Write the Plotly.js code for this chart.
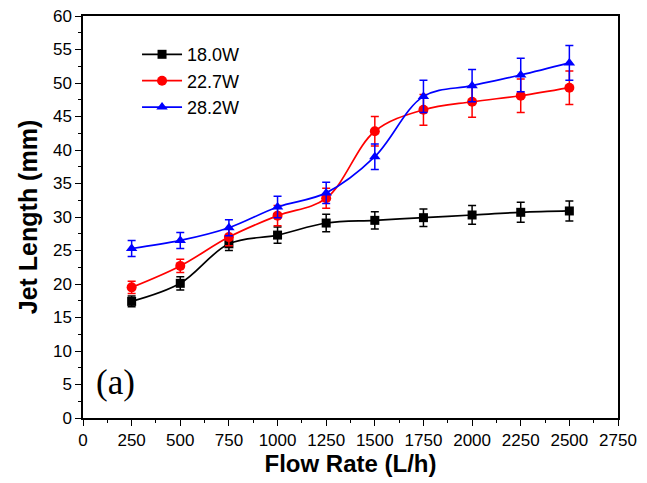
<!DOCTYPE html>
<html><head><meta charset="utf-8">
<script src="https://cdn.plot.ly/plotly-3.0.1.min.js"></script>
<style>body{margin:0;background:#fff}#plot{width:647px;height:483px}</style>
</head><body><div id="plot"></div>
<script>
const flowRate = [250, 500, 750, 1000, 1250, 1500, 1750, 2000, 2250, 2500];
const seriesNames = ["18.0W", "22.7W", "28.2W"];
const jet18 = [17.4, 20.1, 26.0, 27.3, 29.1, 29.5, 29.9, 30.3, 30.7, 30.9];
const err18 = [0.8, 1.0, 1.0, 1.2, 1.3, 1.3, 1.3, 1.4, 1.5, 1.5];
const jet22 = [19.5, 22.7, 27.0, 30.2, 32.8, 42.8, 46.0, 47.2, 48.1, 49.3];
const err22 = [0.9, 1.0, 1.3, 1.5, 1.5, 2.2, 2.3, 2.3, 2.5, 2.5];
const jet28 = [25.3, 26.5, 28.4, 31.5, 33.6, 39.0, 48.0, 49.6, 51.2, 53.0];
const err28 = [1.2, 1.2, 1.2, 1.6, 1.6, 1.9, 2.4, 2.4, 2.5, 2.6];
const xTicks = [0, 250, 500, 750, 1000, 1250, 1500, 1750, 2000, 2250, 2500, 2750];
const yTicks = [0, 5, 10, 15, 20, 25, 30, 35, 40, 45, 50, 55, 60];

function mk(name, y, e, color, symbol, size) {
  return {
    x: flowRate, y: y, name: name, type: 'scatter', mode: 'lines+markers',
    line: {color: color, width: 1.7, shape: 'spline', smoothing: 1},
    marker: {color: color, symbol: symbol, size: size},
    error_y: {type: 'data', array: e, visible: true, color: color, thickness: 1.5, width: 4}
  };
}
const data = [
  mk(seriesNames[0], jet18, err18, '#000000', 'square', 9),
  mk(seriesNames[1], jet22, err22, '#ff0000', 'circle', 10),
  mk(seriesNames[2], jet28, err28, '#0000ff', 'triangle-up', 10)
];
const fam = 'Liberation Sans, Arial, sans-serif';
const axFont = {family: fam, size: 17, color: '#000'};
const layout = {
  width: 647, height: 483,
  margin: {l: 83, r: 29, t: 16, b: 65},
  paper_bgcolor: '#fff', plot_bgcolor: '#fff',
  showlegend: true,
  legend: {x: 0.101, y: 0.95, xanchor: 'left', yanchor: 'top', bgcolor: 'rgba(0,0,0,0)',
           font: {family: fam, size: 18, color: '#000'},
           tracegroupgap: 0, itemwidth: 40},
  xaxis: {
    range: [0, 2750], tickvals: xTicks, ticktext: xTicks.map(String),
    ticks: 'outside', ticklen: 6, tickwidth: 1.3, tickcolor: '#000',
    minor: {ticks: 'outside', dtick: 125, tick0: 0, ticklen: 3, tickcolor: '#000', showgrid: false},
    showline: true, linecolor: '#000', linewidth: 1.5, mirror: true,
    showgrid: false, zeroline: false, tickfont: axFont,
    title: {text: 'Flow Rate (L/h)', font: {family: fam, size: 24, color: '#000', weight: 'bold'}, standoff: 6}
  },
  yaxis: {
    range: [0, 60], tickvals: yTicks, ticktext: yTicks.map(String),
    ticks: 'outside', ticklen: 6, tickwidth: 1.3, tickcolor: '#000',
    minor: {ticks: 'outside', dtick: 2.5, tick0: 0, ticklen: 3, tickcolor: '#000', showgrid: false},
    showline: true, linecolor: '#000', linewidth: 1.5, mirror: true,
    showgrid: false, zeroline: false, tickfont: axFont,
    title: {text: 'Jet Length (mm)', font: {family: fam, size: 25, color: '#000', weight: 'bold'}, standoff: 8}
  },
  annotations: [{
    text: '(a)', xref: 'paper', yref: 'paper', x: 0.02, y: 0.035, xanchor: 'left', yanchor: 'bottom',
    showarrow: false, font: {family: 'Liberation Serif, Times New Roman, serif', size: 35, color: '#000'}
  }]
};
Plotly.newPlot('plot', data, layout, {displayModeBar: false});
</script></body></html>
